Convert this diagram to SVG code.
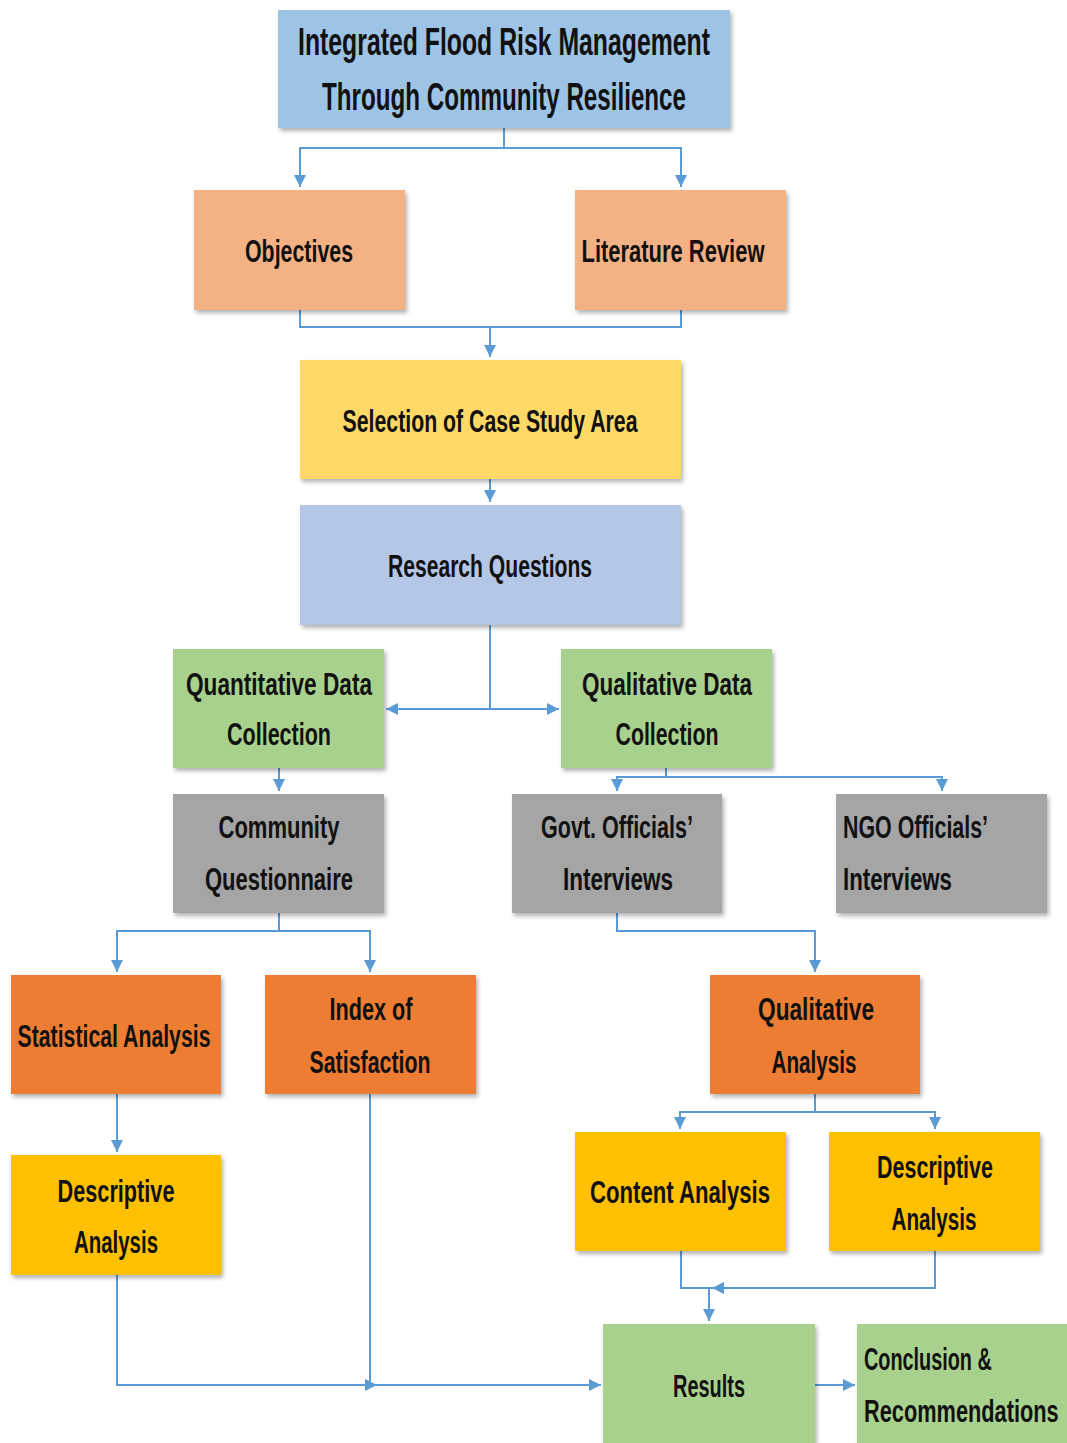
<svg xmlns="http://www.w3.org/2000/svg" width="1067" height="1443" viewBox="0 0 1067 1443">
<defs>
<filter id="sh" x="-10%" y="-10%" width="120%" height="130%">
<feDropShadow dx="2" dy="3" stdDeviation="2" flood-color="#000" flood-opacity="0.3"/>
</filter>
<marker id="ah" viewBox="0 0 10 10" refX="10" refY="5" markerWidth="12" markerHeight="12" markerUnits="userSpaceOnUse" orient="auto">
<path d="M0,0 L10,5 L0,10 z" fill="#5B9BD5"/>
</marker>
<style>
.box{filter:url(#sh)}
.t{font-family:"Liberation Sans","Open Sans",sans-serif;font-weight:bold;font-size:32px;fill:#111}
.c{text-anchor:middle}
.big{font-size:38px}
.ln{fill:none;stroke:#5B9BD5;stroke-width:2}
.blue{fill:#9DC3E6}.peach{fill:#F4B183}.yel{fill:#FFD966}.lav{fill:#B4C7E7}.grn{fill:#A9D18E}.gry{fill:#A5A5A5}.org{fill:#ED7D31}.gold{fill:#FFC000}
</style>
</defs>
<rect width="1067" height="1443" fill="#fff"/>

<g id="connectors">
<path class="ln" d="M504,128 V148 H300 V187" marker-end="url(#ah)"/>
<path class="ln" d="M504,148 H681 V187" marker-end="url(#ah)"/>
<path class="ln" d="M300,310 V327 H681 V310"/>
<path class="ln" d="M490,327 V357" marker-end="url(#ah)"/>
<path class="ln" d="M490,479 V502" marker-end="url(#ah)"/>
<path class="ln" d="M490,625 V709"/>
<path class="ln" d="M490,709 H386" marker-end="url(#ah)"/>
<path class="ln" d="M490,709 H559" marker-end="url(#ah)"/>
<path class="ln" d="M279,768 V791" marker-end="url(#ah)"/>
<path class="ln" d="M666,768 V777"/>
<path class="ln" d="M666,777 H617 V791" marker-end="url(#ah)"/>
<path class="ln" d="M666,777 H942 V791" marker-end="url(#ah)"/>
<path class="ln" d="M279,913 V931 H117 V972" marker-end="url(#ah)"/>
<path class="ln" d="M279,931 H370 V972" marker-end="url(#ah)"/>
<path class="ln" d="M617,913 V931 H815 V972" marker-end="url(#ah)"/>
<path class="ln" d="M815,1094 V1112 H680 V1129" marker-end="url(#ah)"/>
<path class="ln" d="M815,1112 H935 V1129" marker-end="url(#ah)"/>
<path class="ln" d="M117,1094 V1152" marker-end="url(#ah)"/>
<path class="ln" d="M681,1251 V1288 H712"/>
<path class="ln" d="M935,1251 V1288 H712" marker-end="url(#ah)"/>
<path class="ln" d="M709,1288 V1321" marker-end="url(#ah)"/>
<path class="ln" d="M117,1275 V1385 H377" marker-end="url(#ah)"/>
<path class="ln" d="M370,1094 V1385 H601" marker-end="url(#ah)"/>
<path class="ln" d="M815,1385 H855" marker-end="url(#ah)"/>
</g>

<g id="title">
<rect class="box blue" x="278" y="10" width="452" height="118"/>
<text class="t c big" x="504" y="55" textLength="412" lengthAdjust="spacingAndGlyphs">Integrated Flood Risk Management</text>
<text class="t c big" x="504" y="110" textLength="364" lengthAdjust="spacingAndGlyphs">Through Community Resilience</text>
</g>
<g id="objectives">
<rect class="box peach" x="194" y="190" width="211" height="120"/>
<text class="t c" x="299" y="262" textLength="108" lengthAdjust="spacingAndGlyphs">Objectives</text>
</g>
<g id="literature">
<rect class="box peach" x="575" y="190" width="211" height="120"/>
<text class="t c" x="673" y="262" textLength="183" lengthAdjust="spacingAndGlyphs">Literature Review</text>
</g>
<g id="selection">
<rect class="box yel" x="300" y="360" width="381" height="119"/>
<text class="t c" x="490" y="432" textLength="295" lengthAdjust="spacingAndGlyphs">Selection of Case Study Area</text>
</g>
<g id="research">
<rect class="box lav" x="300" y="505" width="381" height="120"/>
<text class="t c" x="490" y="577" textLength="204" lengthAdjust="spacingAndGlyphs">Research Questions</text>
</g>
<g id="quant">
<rect class="box grn" x="173" y="649" width="211" height="119"/>
<text class="t c" x="279" y="695" textLength="186" lengthAdjust="spacingAndGlyphs">Quantitative Data</text>
<text class="t c" x="279" y="745" textLength="104" lengthAdjust="spacingAndGlyphs">Collection</text>
</g>
<g id="qual">
<rect class="box grn" x="561" y="649" width="211" height="119"/>
<text class="t c" x="667" y="695" textLength="170" lengthAdjust="spacingAndGlyphs">Qualitative Data</text>
<text class="t c" x="667" y="745" textLength="103" lengthAdjust="spacingAndGlyphs">Collection</text>
</g>
<g id="community">
<rect class="box gry" x="173" y="794" width="211" height="119"/>
<text class="t c" x="279" y="838" textLength="121" lengthAdjust="spacingAndGlyphs">Community</text>
<text class="t c" x="279" y="890" textLength="148" lengthAdjust="spacingAndGlyphs">Questionnaire</text>
</g>
<g id="govt">
<rect class="box gry" x="512" y="794" width="210" height="119"/>
<text class="t c" x="617" y="838" textLength="152" lengthAdjust="spacingAndGlyphs">Govt. Officials’</text>
<text class="t c" x="618" y="890" textLength="110" lengthAdjust="spacingAndGlyphs">Interviews</text>
</g>
<g id="ngo">
<rect class="box gry" x="836" y="794" width="211" height="119"/>
<text class="t" x="843" y="838" textLength="145" lengthAdjust="spacingAndGlyphs">NGO Officials’</text>
<text class="t" x="843" y="890" textLength="109" lengthAdjust="spacingAndGlyphs">Interviews</text>
</g>
<g id="statistical">
<rect class="box org" x="11" y="975" width="210" height="119"/>
<text class="t c" x="114" y="1047" textLength="193" lengthAdjust="spacingAndGlyphs">Statistical Analysis</text>
</g>
<g id="index">
<rect class="box org" x="265" y="975" width="211" height="119"/>
<text class="t c" x="371" y="1020" textLength="83" lengthAdjust="spacingAndGlyphs">Index of</text>
<text class="t c" x="370" y="1073" textLength="121" lengthAdjust="spacingAndGlyphs">Satisfaction</text>
</g>
<g id="qualanalysis">
<rect class="box org" x="710" y="975" width="210" height="119"/>
<text class="t c" x="816" y="1020" textLength="116" lengthAdjust="spacingAndGlyphs">Qualitative</text>
<text class="t c" x="814" y="1073" textLength="85" lengthAdjust="spacingAndGlyphs">Analysis</text>
</g>
<g id="desc-left">
<rect class="box gold" x="11" y="1155" width="210" height="120"/>
<text class="t c" x="116" y="1202" textLength="117" lengthAdjust="spacingAndGlyphs">Descriptive</text>
<text class="t c" x="116" y="1253" textLength="84" lengthAdjust="spacingAndGlyphs">Analysis</text>
</g>
<g id="content">
<rect class="box gold" x="575" y="1132" width="211" height="119"/>
<text class="t c" x="680" y="1203" textLength="180" lengthAdjust="spacingAndGlyphs">Content  Analysis</text>
</g>
<g id="desc-right">
<rect class="box gold" x="829" y="1132" width="211" height="119"/>
<text class="t c" x="935" y="1178" textLength="116" lengthAdjust="spacingAndGlyphs">Descriptive</text>
<text class="t c" x="934" y="1230" textLength="85" lengthAdjust="spacingAndGlyphs">Analysis</text>
</g>
<g id="results">
<rect class="box grn" x="603" y="1324" width="212" height="119"/>
<text class="t c" x="709" y="1397" textLength="72" lengthAdjust="spacingAndGlyphs">Results</text>
</g>
<g id="conclusion">
<rect class="box grn" x="857" y="1324" width="210" height="119"/>
<text class="t" transform="translate(864,1370) scale(0.62,1)">Conclusion &amp;</text>
<text class="t" transform="translate(864,1422) scale(0.68,1)">Recommendations</text>
</g>
</svg>
